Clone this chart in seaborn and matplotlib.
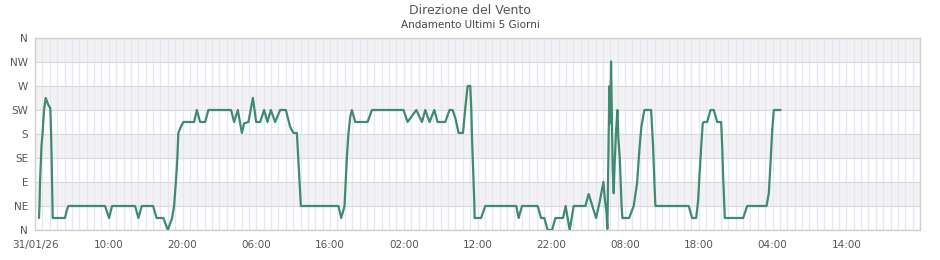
import matplotlib
matplotlib.use("Agg")
import matplotlib.pyplot as plt
import seaborn as sns
import pandas as pd
import numpy as np

# hours since 31/01/26 00:00
hours = [0.54, 0.61, 0.68, 0.88, 1.02, 1.22, 1.45, 1.76, 2.08, 2.17, 2.27, 2.35, 2.40,
         4.07, 4.27, 4.52, 9.50, 10.04, 10.45, 13.57, 14.02, 14.48, 16.01, 16.49, 17.41,
         18.01, 18.59, 18.86, 19.09, 19.27, 19.44, 19.77, 20.12, 21.57, 21.94, 22.39,
         23.07, 23.51, 26.59, 27.00, 27.50, 28.05, 28.36, 28.94, 29.54, 29.99, 30.53,
         31.07, 31.52, 31.98, 32.56, 33.24, 34.02, 34.60, 35.05, 35.51, 35.73, 35.86,
         36.05, 41.15, 41.52, 41.97, 42.16, 42.29, 42.51, 42.74, 42.97, 43.42, 45.09,
         45.69, 49.97, 50.52, 51.70, 52.47, 52.92, 53.50, 54.14, 54.59, 55.63, 56.21,
         56.62, 56.99, 57.44, 58.03, 58.34, 58.66, 59.02, 59.16, 59.25, 59.39, 59.57,
         59.61, 60.48, 61.06, 65.26, 65.58, 66.04, 68.15, 68.62, 69.06, 69.51, 70.11,
         70.56, 71.60, 71.95, 72.50, 73.04, 74.63, 75.07, 76.08, 76.57, 77.07, 77.25,
         77.48, 77.61, 77.75, 77.88, 77.98, 78.11, 78.25, 78.33, 78.47, 78.60, 78.79,
         78.97, 79.10, 79.29, 79.42, 79.55, 79.65, 80.56, 81.18, 81.64, 81.95, 82.22,
         82.63, 83.54, 83.81, 83.99, 84.12, 88.64, 89.10, 89.65, 89.92, 90.14, 90.33,
         90.54, 90.68, 91.14, 91.59, 92.04, 92.50, 93.04, 93.18, 93.31, 93.53, 96.02,
         96.57, 99.19, 99.50, 99.73, 99.96, 100.18, 101.09]

direction = [22.5, 45, 90, 157.5, 180, 225, 247.5, 236, 228, 187, 125, 56, 22.5,
             22.5, 35, 45, 45, 22.5, 45, 45, 22.5, 45, 45, 22.5, 22.5,
             0, 22.5, 45, 88, 125, 182, 193, 202.5, 202.5, 225, 202.5,
             202.5, 225, 225, 202.5, 225, 182, 200, 202.5, 247.5, 202.5, 202.5,
             225, 202.5, 225, 202.5, 225, 225, 193, 182, 182, 125, 88,
             45, 45, 22.5, 45, 100, 137, 182, 212, 225, 202.5, 202.5,
             225, 225, 202.5, 225, 202.5, 225, 202.5, 225, 202.5, 202.5, 225,
             225, 210, 182, 182, 228, 270, 270, 225, 175, 119, 50,
             22.5, 22.5, 45, 45, 22.5, 45, 45, 22.5, 22.5, 0, 0,
             22.5, 22.5, 45, 0, 45, 45, 67.5, 22.5, 53, 90, 60,
             34, 2, 140, 270, 200, 316, 190, 112, 69, 125, 187,
             225, 172, 135, 90, 41, 22.5, 22.5, 45, 88, 150, 194,
             225, 225, 156, 88, 45, 45, 22.5, 22.5, 56, 112, 156,
             200, 202.5, 202.5, 225, 225, 202.5, 202.5, 156, 100, 22.5, 22.5,
             45, 45, 69, 125, 187, 225, 225]

y_labels = ["N", "NE", "E", "SE", "S", "SW", "W", "NW", "N"]
x_labels = ["31/01/26", "10:00", "20:00", "06:00", "16:00", "02:00",
            "12:00", "22:00", "08:00", "18:00", "04:00", "14:00"]

title = "Direzione del Vento"
subtitle = "Andamento Ultimi 5 Giorni"

df = pd.DataFrame({"ore": hours, "direzione": direction})

sns.set_style("white")
plt.rcParams["font.family"] = ["DejaVu Sans"]

fig = plt.figure(figsize=(9.4, 2.6), dpi=100)
ax = fig.add_axes([35 / 940, 1 - 230 / 260, 885 / 940, 192 / 260])

# alternating bands
for i in range(8):
    if i % 2 == 1:
        ax.axhspan(i * 45, (i + 1) * 45, color="#f2f2f2", zorder=0, lw=0)

sns.lineplot(data=df, x="ore", y="direzione", ax=ax, color="#3f8a70",
             linewidth=1.6, zorder=3)

ax.set_xlim(0, 120)
ax.set_ylim(0, 360)
ax.set_yticks(np.arange(0, 361, 45))
ax.set_yticklabels(y_labels)
ax.set_xticks(np.arange(0, 120, 10))
ax.set_xticklabels(x_labels)
ax.set_xticks(np.arange(0, 121, 1), minor=True)

ax.grid(True, axis="x", which="both", color="#e6e6fa", linewidth=0.9, zorder=1)
ax.grid(True, axis="y", which="major", color="#dcdcdc", linewidth=0.9, zorder=1)
ax.set_axisbelow(True)

ax.tick_params(axis="both", which="both", length=0, colors="#555555", labelsize=7.5)
ax.tick_params(axis="x", pad=7)
ax.tick_params(axis="y", pad=5)
for s in ax.spines.values():
    s.set_color("#d0d0d0")
    s.set_linewidth(1.0)

ax.set_xlabel("")
ax.set_ylabel("")

fig.text(0.5, 1 - 10 / 260, title, ha="center", va="center", fontsize=9, color="#555555")
fig.text(0.5, 1 - 25 / 260, subtitle, ha="center", va="center", fontsize=7.5, color="#444444")

fig.savefig("out.png", dpi=100, facecolor="white")
